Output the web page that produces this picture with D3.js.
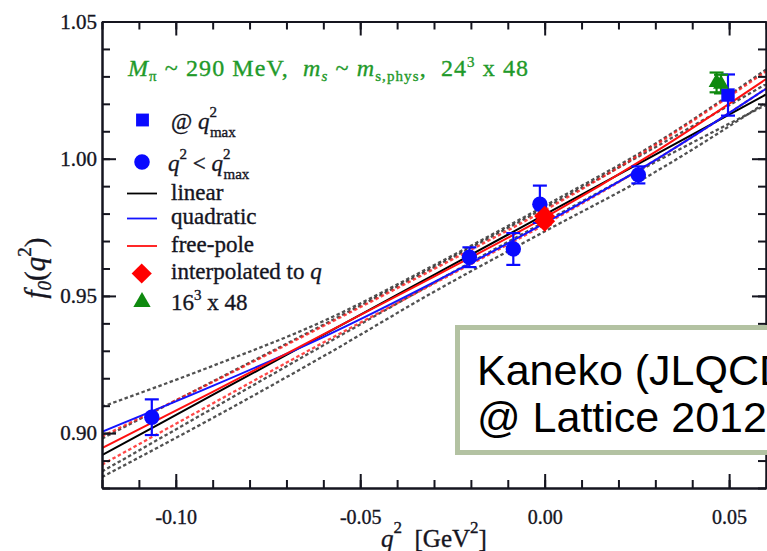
<!DOCTYPE html>
<html>
<head>
<meta charset="utf-8">
<script src="https://cdn.jsdelivr.net/npm/d3@7"></script>
<style>
  html, body { margin: 0; padding: 0; background: #fff; }
  svg { display: block; }
  text { white-space: pre; }
</style>
</head>
<body>
<svg id="chart" width="767" height="551"></svg>
<script>
// ---- data -------------------------------------------------------------
// lattice points with q^2 < q^2_max
const dataQ2  = [-0.1065, -0.0204, -0.0085, -0.0013, 0.0254];
const dataF0  = [0.9058, 0.9641, 0.9671, 0.9834, 0.9941];
const dataErr = [0.0065, 0.0036, 0.0058, 0.0068, 0.0031];

// point at q^2_max
const qmaxQ2  = [0.0497];
const qmaxF0  = [1.0232];
const qmaxErr = [0.0075];

// values interpolated to q^2 = 0
const interpQ2  = [0.0, 0.0];
const interpF0  = [0.9790, 0.9772];
const interpErr = [0.0012, 0.0012];

// 16^3 x 48 lattice
const smallQ2  = [0.0466, 0.0478];
const smallF0  = [1.0278, 1.0272];
const smallErr = [0.0036, 0.0034];

// fit curves sampled on a q^2 grid
const qGrid    = [-0.12, -0.09, -0.06, -0.03, 0.00, 0.03, 0.06];
const linear   = [0.8920, 0.9139, 0.9358, 0.9577, 0.9796, 1.0015, 1.0234];
const linearHi = [0.8980, 0.9188, 0.9395, 0.9605, 0.9820, 1.0042, 1.0272];
const linearLo = [0.8860, 0.9090, 0.9320, 0.9548, 0.9770, 0.9988, 1.0196];
const quad     = [0.9005, 0.9172, 0.9350, 0.9550, 0.9765, 0.9995, 1.0255];
const quadHi   = [0.9096, 0.9245, 0.9408, 0.9612, 0.9828, 1.0055, 1.0325];
const quadLo   = [0.8840, 0.9055, 0.9280, 0.9515, 0.9735, 0.9952, 1.0205];
const pole     = [0.8945, 0.9150, 0.9360, 0.9570, 0.9785, 1.0025, 1.0290];
const poleHi   = [0.8988, 0.9186, 0.9390, 0.9598, 0.9812, 1.0050, 1.0318];
const poleLo   = [0.8885, 0.9108, 0.9330, 0.9545, 0.9760, 0.9995, 1.0255];

// axes
const xMajor = [-0.10, -0.05, 0.00, 0.05];
const xTickLabels = ["-0.10", "-0.05", "0.00", "0.05"];
const yMajor = [0.90, 0.95, 1.00, 1.05];
const yTickLabels = ["0.90", "0.95", "1.00", "1.05"];

// ---- drawing ----------------------------------------------------------
const svg = d3.select("#chart");
const serif = "'Liberation Serif', 'Times New Roman', serif";
const ink = "#15151f";

const x = d3.scaleLinear().domain([-0.12, 0.06]).range([102, 766]);
const y = d3.scaleLinear().domain([0.88, 1.05]).range([488, 21.5]);

svg.append("defs").append("clipPath").attr("id", "plotClip")
  .append("rect")
  .attr("x", x.range()[0]).attr("y", y.range()[1])
  .attr("width", x.range()[1] - x.range()[0])
  .attr("height", y.range()[0] - y.range()[1]);

// fit curves
const plot = svg.append("g").attr("clip-path", "url(#plotClip)");
const curve = vals => d3.line()
  .x((d, i) => x(qGrid[i]))
  .y(d => y(d))
  .curve(d3.curveMonotoneX)(vals);

const dashed = [
  [quadHi, "#262626"], [quadLo, "#262626"],
  [linearHi, "#262626"], [linearLo, "#262626"],
  [poleHi, "#ff1a1a"], [poleLo, "#ff1a1a"]
];
dashed.forEach(([vals, col]) => {
  plot.append("path").attr("d", curve(vals))
    .attr("fill", "none").attr("stroke", col)
    .attr("stroke-width", 2.3).attr("stroke-dasharray", "3.5,2.5")
    .attr("opacity", 0.8);
});
[[linear, "#000"], [quad, "#1414ff"], [pole, "#ff1010"]].forEach(([vals, col]) => {
  plot.append("path").attr("d", curve(vals))
    .attr("fill", "none").attr("stroke", col).attr("stroke-width", 2);
});

// error bars
function errorBars(qs, fs, es, col) {
  const g = svg.append("g").attr("stroke", col).attr("stroke-width", 2.2).attr("fill", "none");
  qs.forEach((q, i) => {
    const cx = x(q), top = y(fs[i] + es[i]), bot = y(fs[i] - es[i]);
    g.append("line").attr("x1", cx).attr("x2", cx).attr("y1", top).attr("y2", bot);
    g.append("line").attr("x1", cx - 7).attr("x2", cx + 7).attr("y1", top).attr("y2", top);
    g.append("line").attr("x1", cx - 7).attr("x2", cx + 7).attr("y1", bot).attr("y2", bot);
  });
}
errorBars(dataQ2, dataF0, dataErr, "#0a0aff");
errorBars(qmaxQ2, qmaxF0, qmaxErr, "#0a0aff");
errorBars(smallQ2, smallF0, smallErr, "#0f8a0f");
errorBars(interpQ2, interpF0, interpErr, "#ff0000");

const sym = (type, size) => d3.symbol().type(type).size(size)();

svg.append("g").selectAll("path").data(dataQ2).join("path")
  .attr("transform", (d, i) => `translate(${x(d)},${y(dataF0[i])})`)
  .attr("d", sym(d3.symbolCircle, 185)).attr("fill", "#0a0aff");
svg.append("g").selectAll("path").data(qmaxQ2).join("path")
  .attr("transform", (d, i) => `translate(${x(d)},${y(qmaxF0[i])})`)
  .attr("d", sym(d3.symbolSquare, 180)).attr("fill", "#0a0aff");
svg.append("g").selectAll("path").data(smallQ2).join("path")
  .attr("transform", (d, i) => `translate(${x(d)},${y(smallF0[i])})`)
  .attr("d", sym(d3.symbolTriangle, 110)).attr("fill", "#0f8a0f");
svg.append("g").selectAll("path").data(interpQ2).join("path")
  .attr("transform", (d, i) => `translate(${x(d)},${y(interpF0[i])})`)
  .attr("d", sym(d3.symbolDiamond2, 280)).attr("fill", "#ff0000");

// frame with inward ticks on all four sides
function styleAxis(g) {
  g.selectAll(".domain").attr("stroke", ink).attr("stroke-width", 2);
  g.selectAll(".tick line").attr("stroke", ink).attr("stroke-width", 2);
  g.selectAll("text").attr("fill", ink).attr("stroke", ink).attr("stroke-width", 0.35)
    .style("font-family", serif).style("font-size", "20px");
}
const xMinor = x.ticks(18), yMinor = y.ticks(17);
const bottom = y.range()[0], topY = y.range()[1], left = x.range()[0], right = x.range()[1];

svg.append("g").attr("transform", `translate(0,${bottom})`)
  .call(d3.axisBottom(x).tickValues(xMinor).tickSize(-8).tickSizeOuter(0).tickFormat(""))
  .call(styleAxis);
svg.append("g").attr("transform", `translate(0,${bottom})`)
  .call(d3.axisBottom(x).tickValues(xMajor).tickSize(-14).tickSizeOuter(0).tickPadding(22)
    .tickFormat((d, i) => xTickLabels[i]))
  .call(styleAxis);
svg.append("g").attr("transform", `translate(0,${topY})`)
  .call(d3.axisTop(x).tickValues(xMinor).tickSize(-8).tickSizeOuter(0).tickFormat(""))
  .call(styleAxis);
svg.append("g").attr("transform", `translate(0,${topY})`)
  .call(d3.axisTop(x).tickValues(xMajor).tickSize(-14).tickSizeOuter(0).tickFormat(""))
  .call(styleAxis);
svg.append("g").attr("transform", `translate(${left},0)`)
  .call(d3.axisLeft(y).tickValues(yMinor).tickSize(-8).tickSizeOuter(0).tickFormat(""))
  .call(styleAxis);
svg.append("g").attr("transform", `translate(${left},0)`)
  .call(d3.axisLeft(y).tickValues(yMajor).tickSize(-14).tickSizeOuter(0).tickPadding(5)
    .tickFormat((d, i) => yTickLabels[i]))
  .call(styleAxis)
  .call(g => g.selectAll("text").style("font-size", "21px"));
svg.append("g").attr("transform", `translate(${right},0)`)
  .call(d3.axisRight(y).tickValues(yMinor).tickSize(-8).tickSizeOuter(0).tickFormat(""))
  .call(styleAxis);
svg.append("g").attr("transform", `translate(${right},0)`)
  .call(d3.axisRight(y).tickValues(yMajor).tickSize(-14).tickSizeOuter(0).tickFormat(""))
  .call(styleAxis);

// rich text with sub/superscripts
function rich(parent, px, py, size, color, segs) {
  const t = parent.append("text").attr("x", px).attr("y", py)
    .style("font-family", serif).style("font-size", size + "px")
    .attr("fill", color).attr("stroke", color).attr("stroke-width", 0.35);
  let cur = 0;
  segs.forEach(s => {
    const off = s.sup ? -s.sup : (s.sub ? s.sub : 0);
    const ts = t.append("tspan").text(s.t).attr("dy", off - cur);
    cur = off;
    if (s.i) ts.style("font-style", "italic");
    if (s.size) ts.style("font-size", s.size + "px");
    if (s.dx) ts.attr("dx", s.dx);
  });
  return t;
}

// header line
const green = "#1f9a2a";
rich(svg, 128, 76, 24, green, [
  {t: "M", i: 1}, {t: "π", sub: 5, size: 15}, {t: " ~ 290 MeV,  "},
  {t: "m", i: 1}, {t: "s", sub: 5, size: 15, i: 1}, {t: " ~ "},
  {t: "m", i: 1}, {t: "s,phys", sub: 5, size: 15}, {t: ",  24"},
  {t: "3", sup: 9, size: 15}, {t: " x 48"}
]).attr("textLength", 400).attr("lengthAdjust", "spacing");

// legend
const leg = svg.append("g");
leg.append("path").attr("transform", "translate(142.5,120)")
  .attr("d", sym(d3.symbolSquare, 165)).attr("fill", "#0a0aff");
leg.append("path").attr("transform", "translate(142,162)")
  .attr("d", sym(d3.symbolCircle, 190)).attr("fill", "#0a0aff");
[[193.5, "#000"], [218.5, "#1414ff"], [246, "#ff1010"]].forEach(([ly, col]) => {
  leg.append("line").attr("x1", 127).attr("x2", 157).attr("y1", ly).attr("y2", ly)
    .attr("stroke", col).attr("stroke-width", 1.8);
});
leg.append("path").attr("transform", "translate(141.7,273.5)")
  .attr("d", sym(d3.symbolDiamond2, 260)).attr("fill", "#ff0000");
leg.append("path").attr("transform", "translate(142,302)")
  .attr("d", sym(d3.symbolTriangle, 130)).attr("fill", "#0f8a0f");

const lx = 171;
rich(leg, lx, 129, 23, ink, [
  {t: "@ "}, {t: "q", i: 1}, {t: "2", sup: 12, size: 15}, {t: "max", sub: 8, size: 15, dx: -7}
]);
rich(leg, lx - 3, 171, 23, ink, [
  {t: "q", i: 1}, {t: "2", sup: 12, size: 15}, {t: " < "}, {t: "q", i: 1},
  {t: "2", sup: 12, size: 15}, {t: "max", sub: 8, size: 15, dx: -7}
]);
rich(leg, lx, 200, 23, ink, [{t: "linear"}]);
rich(leg, lx, 224, 23, ink, [{t: "quadratic"}]);
rich(leg, lx, 252, 23, ink, [{t: "free-pole"}]);
rich(leg, lx, 279, 23, ink, [{t: "interpolated to "}, {t: "q", i: 1}]);
rich(leg, lx, 310, 23, ink, [{t: "16"}, {t: "3", sup: 10, size: 15}, {t: " x 48"}]);

// axis titles
const yt = rich(svg, 0, 0, 29, ink, [
  {t: "f", i: 1}, {t: "0", sub: 6, size: 19, i: 1}, {t: "("}, {t: "q", i: 1},
  {t: "2", sup: 14, size: 19}, {t: ")"}
]);
yt.attr("text-anchor", "middle").attr("transform", "translate(45,268) rotate(-90)");

rich(svg, 381, 547, 25, ink, [
  {t: "q", i: 1}, {t: "2", sup: 14, size: 17}, {t: "  [GeV"},
  {t: "2", sup: 14, size: 17}, {t: "]"}
]);

// credit box
const box = svg.append("g");
box.append("rect").attr("x", 457.5).attr("y", 327.5).attr("width", 340).attr("height", 125)
  .attr("fill", "#fff").attr("stroke", "#b3c2a2").attr("stroke-width", 5);
box.append("text").attr("x", 477).attr("y", 385)
  .style("font-family", "'Liberation Sans', Arial, sans-serif").style("font-size", "43px")
  .attr("fill", "#000").text("Kaneko (JLQCD)");
box.append("text").attr("x", 477).attr("y", 432)
  .style("font-family", "'Liberation Sans', Arial, sans-serif").style("font-size", "43px")
  .attr("fill", "#000").text("@ Lattice 2012");
</script>
</body>
</html>
